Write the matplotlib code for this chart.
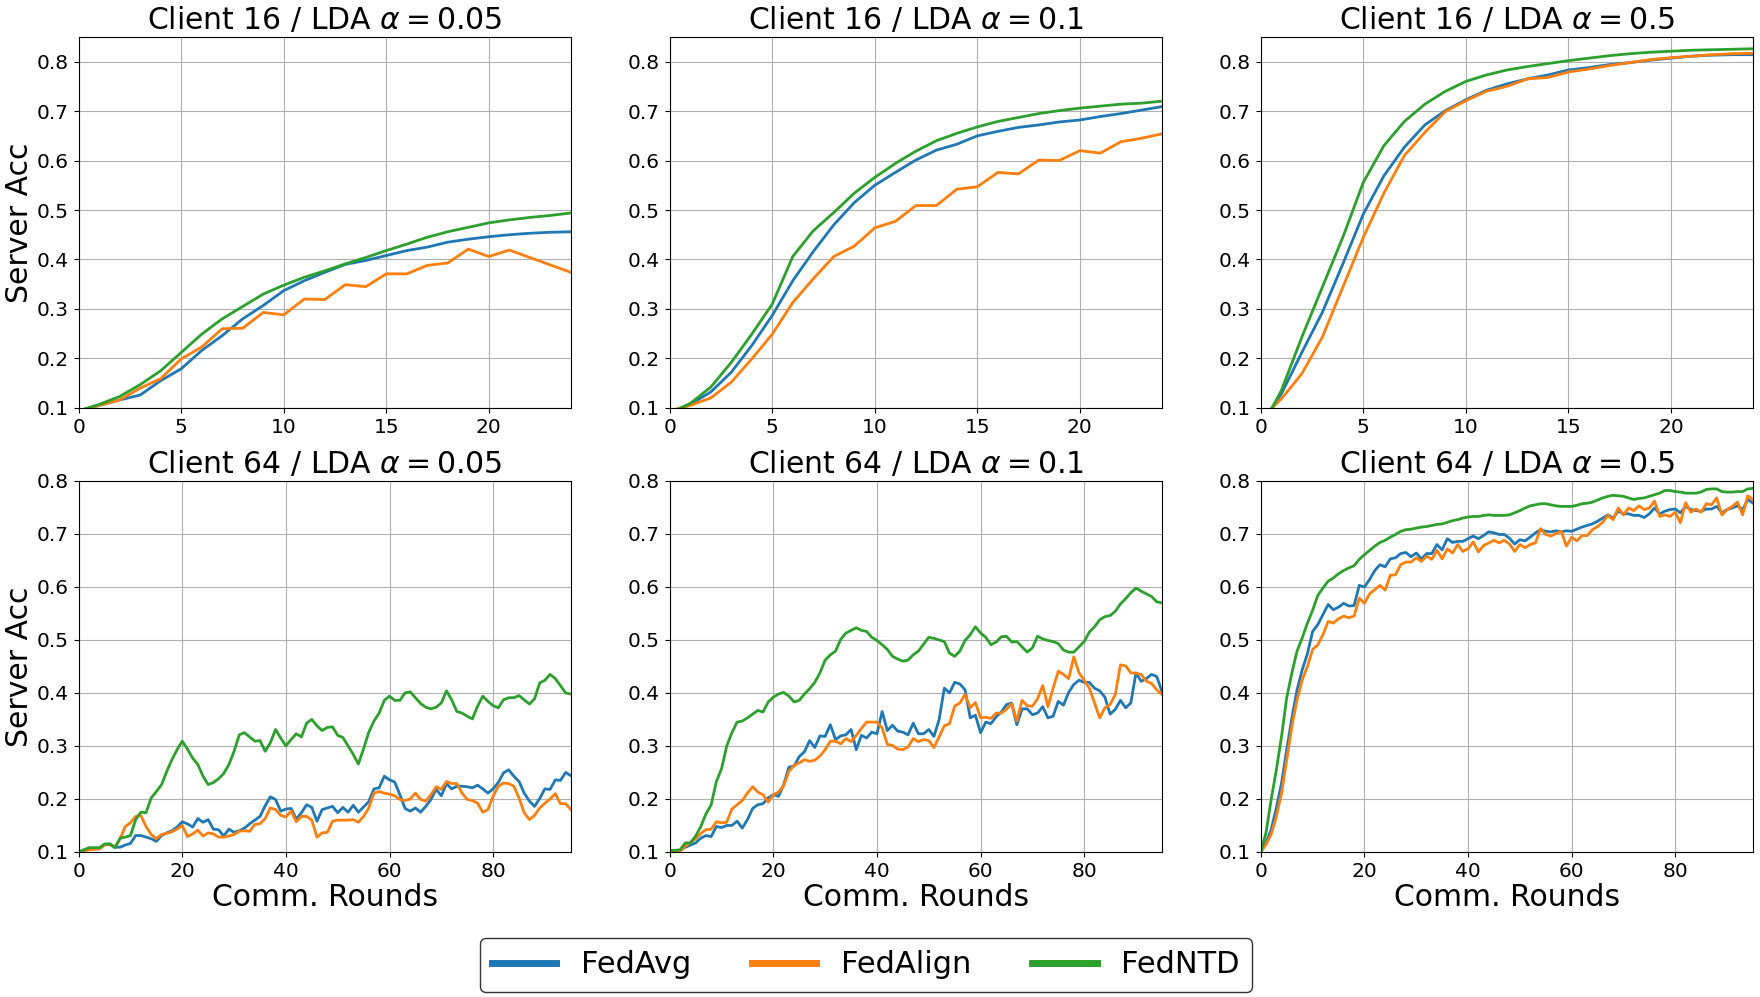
import numpy as np
from matplotlib import pyplot as plt

# rounds
rounds_16 = np.arange(0, 25)
rounds_64 = np.arange(0, 96)

methods = ["FedAvg", "FedAlign", "FedNTD"]
colors = ["tab:blue", "tab:orange", "tab:green"]

# Client 16, LDA alpha = 0.05
c16_a005_avg = [0.094, 0.105, 0.116, 0.126, 0.155, 0.179, 0.216, 0.246, 0.280, 0.307, 0.337, 0.357, 0.374,
                0.390, 0.398, 0.408, 0.418, 0.425, 0.435, 0.441, 0.446, 0.450, 0.453, 0.455, 0.456]
c16_a005_align = [0.094, 0.105, 0.116, 0.140, 0.159, 0.199, 0.223, 0.260, 0.261, 0.293, 0.288, 0.320, 0.319,
                  0.349, 0.345, 0.371, 0.371, 0.388, 0.393, 0.421, 0.406, 0.419, 0.404, 0.389, 0.374]
c16_a005_ntd = [0.094, 0.107, 0.123, 0.147, 0.175, 0.212, 0.249, 0.280, 0.305, 0.330, 0.348, 0.364, 0.377,
                0.391, 0.404, 0.418, 0.431, 0.445, 0.456, 0.465, 0.474, 0.480, 0.485, 0.489, 0.494]

# Client 16, LDA alpha = 0.1
c16_a01_avg = [0.092, 0.107, 0.132, 0.172, 0.226, 0.287, 0.357, 0.416, 0.470, 0.515, 0.550, 0.576, 0.601,
               0.621, 0.633, 0.650, 0.659, 0.667, 0.672, 0.678, 0.682, 0.689, 0.695, 0.702, 0.709]
c16_a01_align = [0.094, 0.105, 0.120, 0.152, 0.199, 0.249, 0.313, 0.361, 0.406, 0.427, 0.464, 0.477, 0.509,
                 0.509, 0.542, 0.547, 0.576, 0.573, 0.601, 0.600, 0.620, 0.615, 0.638, 0.645, 0.654]
c16_a01_ntd = [0.089, 0.109, 0.142, 0.192, 0.249, 0.310, 0.406, 0.458, 0.495, 0.534, 0.566, 0.594, 0.619,
               0.640, 0.655, 0.668, 0.679, 0.687, 0.695, 0.701, 0.706, 0.710, 0.714, 0.716, 0.720]

# Client 16, LDA alpha = 0.5
c16_a05_avg = [0.066, 0.128, 0.212, 0.293, 0.391, 0.492, 0.569, 0.627, 0.672, 0.701, 0.723, 0.742, 0.755,
               0.765, 0.773, 0.783, 0.788, 0.794, 0.798, 0.803, 0.807, 0.811, 0.813, 0.814, 0.814]
c16_a05_align = [0.078, 0.118, 0.169, 0.243, 0.344, 0.445, 0.534, 0.610, 0.657, 0.699, 0.721, 0.740, 0.750,
                 0.765, 0.768, 0.779, 0.785, 0.792, 0.798, 0.804, 0.808, 0.811, 0.814, 0.816, 0.817]
c16_a05_ntd = [0.057, 0.135, 0.243, 0.344, 0.445, 0.556, 0.630, 0.679, 0.714, 0.740, 0.760, 0.773, 0.783,
               0.790, 0.796, 0.802, 0.807, 0.812, 0.816, 0.819, 0.821, 0.823, 0.824, 0.825, 0.826]

# Client 64, LDA alpha = 0.05
c64_a005_avg = [0.100, 0.103, 0.106, 0.106, 0.106, 0.114, 0.115, 0.109, 0.109, 0.113, 0.116, 0.131, 0.131,
                0.128, 0.125, 0.120, 0.131, 0.136, 0.140, 0.147, 0.157, 0.153, 0.147, 0.163, 0.156, 0.161,
                0.143, 0.142, 0.130, 0.143, 0.137, 0.140, 0.145, 0.153, 0.160, 0.167, 0.187, 0.204, 0.199,
                0.177, 0.181, 0.182, 0.162, 0.174, 0.189, 0.184, 0.158, 0.180, 0.183, 0.186, 0.174, 0.184,
                0.175, 0.188, 0.175, 0.185, 0.195, 0.219, 0.221, 0.243, 0.236, 0.232, 0.208, 0.182, 0.177,
                0.183, 0.175, 0.186, 0.199, 0.218, 0.206, 0.229, 0.219, 0.224, 0.224, 0.223, 0.221, 0.226,
                0.219, 0.211, 0.219, 0.231, 0.249, 0.255, 0.243, 0.233, 0.211, 0.196, 0.186, 0.201, 0.219,
                0.218, 0.236, 0.235, 0.250, 0.244]
c64_a005_align = [0.100, 0.102, 0.104, 0.105, 0.106, 0.113, 0.114, 0.109, 0.125, 0.148, 0.155, 0.167, 0.169,
                  0.148, 0.133, 0.125, 0.133, 0.135, 0.138, 0.143, 0.150, 0.129, 0.134, 0.141, 0.130, 0.136,
                  0.134, 0.128, 0.128, 0.130, 0.133, 0.139, 0.140, 0.139, 0.152, 0.153, 0.163, 0.183, 0.180,
                  0.169, 0.166, 0.177, 0.157, 0.167, 0.167, 0.160, 0.128, 0.136, 0.137, 0.158, 0.160, 0.160,
                  0.160, 0.161, 0.156, 0.167, 0.183, 0.211, 0.214, 0.211, 0.209, 0.206, 0.199, 0.197, 0.200,
                  0.211, 0.199, 0.196, 0.208, 0.223, 0.218, 0.233, 0.229, 0.229, 0.211, 0.199, 0.197, 0.192,
                  0.175, 0.180, 0.205, 0.224, 0.230, 0.229, 0.224, 0.202, 0.174, 0.161, 0.169, 0.183, 0.192,
                  0.200, 0.210, 0.191, 0.191, 0.180]
c64_a005_ntd = [0.100, 0.104, 0.108, 0.108, 0.108, 0.115, 0.115, 0.108, 0.126, 0.128, 0.131, 0.161, 0.175,
                0.174, 0.202, 0.214, 0.227, 0.252, 0.274, 0.293, 0.309, 0.294, 0.277, 0.265, 0.243, 0.227,
                0.231, 0.238, 0.248, 0.265, 0.290, 0.321, 0.325, 0.317, 0.309, 0.310, 0.290, 0.306, 0.331,
                0.315, 0.300, 0.312, 0.323, 0.317, 0.343, 0.350, 0.338, 0.329, 0.335, 0.336, 0.320, 0.316,
                0.300, 0.284, 0.266, 0.295, 0.326, 0.347, 0.362, 0.386, 0.394, 0.386, 0.386, 0.400, 0.402,
                0.391, 0.380, 0.373, 0.370, 0.373, 0.381, 0.404, 0.387, 0.365, 0.362, 0.356, 0.351, 0.375,
                0.394, 0.384, 0.376, 0.372, 0.387, 0.391, 0.391, 0.395, 0.387, 0.379, 0.389, 0.419, 0.424,
                0.435, 0.427, 0.414, 0.400, 0.398]

# Client 64, LDA alpha = 0.1
c64_a01_avg = [0.100, 0.101, 0.103, 0.109, 0.113, 0.117, 0.126, 0.131, 0.129, 0.148, 0.146, 0.150, 0.150,
               0.158, 0.145, 0.161, 0.182, 0.189, 0.191, 0.202, 0.208, 0.205, 0.227, 0.260, 0.262, 0.280,
               0.289, 0.310, 0.297, 0.319, 0.318, 0.340, 0.312, 0.319, 0.321, 0.331, 0.293, 0.320, 0.315,
               0.326, 0.323, 0.365, 0.329, 0.339, 0.328, 0.326, 0.321, 0.343, 0.323, 0.323, 0.331, 0.318,
               0.350, 0.409, 0.400, 0.420, 0.417, 0.406, 0.353, 0.358, 0.325, 0.345, 0.342, 0.355, 0.364,
               0.378, 0.381, 0.340, 0.370, 0.370, 0.359, 0.362, 0.374, 0.353, 0.356, 0.384, 0.377, 0.401,
               0.416, 0.424, 0.420, 0.420, 0.409, 0.404, 0.392, 0.360, 0.369, 0.386, 0.372, 0.381, 0.438,
               0.422, 0.427, 0.435, 0.431, 0.403]
c64_a01_align = [0.103, 0.103, 0.101, 0.111, 0.118, 0.125, 0.135, 0.142, 0.143, 0.157, 0.155, 0.156, 0.181,
                 0.189, 0.197, 0.211, 0.223, 0.213, 0.208, 0.194, 0.208, 0.213, 0.225, 0.252, 0.263, 0.268,
                 0.274, 0.271, 0.273, 0.281, 0.293, 0.309, 0.309, 0.304, 0.314, 0.308, 0.320, 0.333, 0.345,
                 0.345, 0.345, 0.334, 0.303, 0.301, 0.294, 0.293, 0.298, 0.314, 0.308, 0.312, 0.310, 0.297,
                 0.317, 0.338, 0.342, 0.375, 0.381, 0.397, 0.372, 0.382, 0.353, 0.354, 0.352, 0.362, 0.362,
                 0.369, 0.380, 0.347, 0.386, 0.376, 0.375, 0.389, 0.414, 0.374, 0.409, 0.441, 0.435, 0.427,
                 0.468, 0.438, 0.424, 0.409, 0.381, 0.353, 0.372, 0.378, 0.397, 0.453, 0.451, 0.438, 0.437,
                 0.435, 0.422, 0.418, 0.406, 0.397]
c64_a01_ntd = [0.103, 0.103, 0.104, 0.117, 0.117, 0.130, 0.148, 0.172, 0.189, 0.233, 0.257, 0.300, 0.325,
               0.345, 0.347, 0.353, 0.360, 0.367, 0.364, 0.383, 0.392, 0.398, 0.401, 0.394, 0.383, 0.386,
               0.398, 0.408, 0.420, 0.438, 0.462, 0.472, 0.479, 0.501, 0.513, 0.518, 0.523, 0.518, 0.516,
               0.505, 0.499, 0.491, 0.482, 0.469, 0.464, 0.460, 0.462, 0.472, 0.479, 0.492, 0.505, 0.503,
               0.500, 0.497, 0.475, 0.469, 0.479, 0.499, 0.510, 0.525, 0.513, 0.505, 0.491, 0.496, 0.506,
               0.507, 0.496, 0.497, 0.487, 0.477, 0.485, 0.507, 0.502, 0.499, 0.497, 0.493, 0.481, 0.477,
               0.477, 0.487, 0.497, 0.515, 0.525, 0.538, 0.544, 0.546, 0.554, 0.568, 0.578, 0.589, 0.598,
               0.592, 0.587, 0.582, 0.572, 0.570]

# Client 64, LDA alpha = 0.5
c64_a05_avg = [0.100, 0.117, 0.142, 0.183, 0.230, 0.293, 0.353, 0.406, 0.444, 0.474, 0.516, 0.529, 0.548,
               0.567, 0.557, 0.562, 0.569, 0.564, 0.565, 0.603, 0.600, 0.614, 0.631, 0.642, 0.638, 0.653,
               0.655, 0.663, 0.665, 0.657, 0.664, 0.653, 0.663, 0.663, 0.680, 0.670, 0.691, 0.684, 0.686,
               0.686, 0.691, 0.696, 0.691, 0.697, 0.704, 0.702, 0.699, 0.699, 0.692, 0.681, 0.689, 0.687,
               0.694, 0.702, 0.708, 0.705, 0.704, 0.706, 0.704, 0.706, 0.705, 0.709, 0.713, 0.716, 0.719,
               0.724, 0.730, 0.736, 0.730, 0.743, 0.738, 0.738, 0.735, 0.735, 0.731, 0.738, 0.749, 0.738,
               0.743, 0.746, 0.747, 0.740, 0.752, 0.746, 0.744, 0.743, 0.747, 0.747, 0.752, 0.740, 0.746,
               0.749, 0.753, 0.746, 0.765, 0.758]
c64_a05_align = [0.100, 0.114, 0.133, 0.167, 0.211, 0.274, 0.337, 0.387, 0.425, 0.450, 0.482, 0.491, 0.510,
                 0.535, 0.532, 0.540, 0.545, 0.542, 0.545, 0.579, 0.569, 0.587, 0.595, 0.603, 0.594, 0.622,
                 0.623, 0.642, 0.647, 0.647, 0.655, 0.648, 0.658, 0.652, 0.669, 0.653, 0.672, 0.664, 0.680,
                 0.667, 0.672, 0.685, 0.666, 0.678, 0.683, 0.688, 0.683, 0.688, 0.681, 0.667, 0.680, 0.674,
                 0.680, 0.683, 0.710, 0.699, 0.696, 0.701, 0.705, 0.677, 0.694, 0.687, 0.697, 0.697, 0.708,
                 0.714, 0.722, 0.735, 0.727, 0.749, 0.736, 0.749, 0.744, 0.753, 0.746, 0.749, 0.762, 0.733,
                 0.736, 0.733, 0.741, 0.721, 0.759, 0.741, 0.747, 0.741, 0.757, 0.755, 0.768, 0.736, 0.746,
                 0.752, 0.760, 0.736, 0.772, 0.764]
c64_a05_ntd = [0.100, 0.136, 0.199, 0.255, 0.318, 0.391, 0.438, 0.479, 0.504, 0.532, 0.556, 0.584, 0.598,
               0.611, 0.617, 0.625, 0.631, 0.636, 0.640, 0.652, 0.661, 0.669, 0.677, 0.684, 0.688, 0.694,
               0.699, 0.705, 0.708, 0.709, 0.711, 0.713, 0.714, 0.716, 0.718, 0.719, 0.722, 0.725, 0.727,
               0.730, 0.732, 0.733, 0.733, 0.735, 0.736, 0.735, 0.735, 0.735, 0.736, 0.740, 0.744, 0.749,
               0.753, 0.755, 0.757, 0.757, 0.755, 0.753, 0.752, 0.752, 0.752, 0.754, 0.757, 0.758, 0.760,
               0.764, 0.768, 0.771, 0.773, 0.772, 0.771, 0.768, 0.765, 0.767, 0.768, 0.771, 0.774, 0.777,
               0.782, 0.782, 0.780, 0.779, 0.777, 0.777, 0.777, 0.779, 0.784, 0.785, 0.785, 0.780, 0.779,
               0.779, 0.780, 0.780, 0.785, 0.786]

panels = [
    ("Client 16 / LDA $\\alpha = 0.05$", rounds_16, [c16_a005_avg, c16_a005_align, c16_a005_ntd]),
    ("Client 16 / LDA $\\alpha = 0.1$", rounds_16, [c16_a01_avg, c16_a01_align, c16_a01_ntd]),
    ("Client 16 / LDA $\\alpha = 0.5$", rounds_16, [c16_a05_avg, c16_a05_align, c16_a05_ntd]),
    ("Client 64 / LDA $\\alpha = 0.05$", rounds_64, [c64_a005_avg, c64_a005_align, c64_a005_ntd]),
    ("Client 64 / LDA $\\alpha = 0.1$", rounds_64, [c64_a01_avg, c64_a01_align, c64_a01_ntd]),
    ("Client 64 / LDA $\\alpha = 0.5$", rounds_64, [c64_a05_avg, c64_a05_align, c64_a05_ntd]),
]

fig, axes = plt.subplots(2, 3, figsize=(17.6, 9.97), dpi=100)
fig.subplots_adjust(left=0.0447, right=0.996, bottom=0.1455, top=0.963, wspace=0.201, hspace=0.197)

for ii, (title, x, series) in enumerate(panels):
    ax = axes.flat[ii]
    for name, col, y in zip(methods, colors, series):
        ax.plot(x, y, color=col, lw=2, label=name)
    ax.set_title(title, fontsize=21.5)
    ax.grid(True)
    ax.tick_params(labelsize=14.5)
    if ii < 3:
        ax.set_xlim(0, 24)
        ax.set_ylim(0.1, 0.85)
        ax.set_xticks([0, 5, 10, 15, 20])
    else:
        ax.set_xlim(0, 95)
        ax.set_ylim(0.1, 0.8)
        ax.set_xticks([0, 20, 40, 60, 80])
        ax.set_xlabel("Comm. Rounds", fontsize=21.5, labelpad=2)
    ax.set_yticks([0.1, 0.2, 0.3, 0.4, 0.5, 0.6, 0.7, 0.8])
    if ii % 3 == 0:
        ax.set_ylabel("Server Acc", fontsize=21.5, labelpad=2)

handles, labels = axes[0, 0].get_legend_handles_labels()
leg = fig.legend(handles, labels, loc="upper center", bbox_to_anchor=(0.492, 0.059), ncol=3,
                 fontsize=22, handlelength=2.1, handletextpad=0.8, columnspacing=2.0,
                 borderaxespad=0, edgecolor="black")
for line in leg.get_lines():
    line.set_linewidth(5)

fig.savefig("out.png", dpi=100)
